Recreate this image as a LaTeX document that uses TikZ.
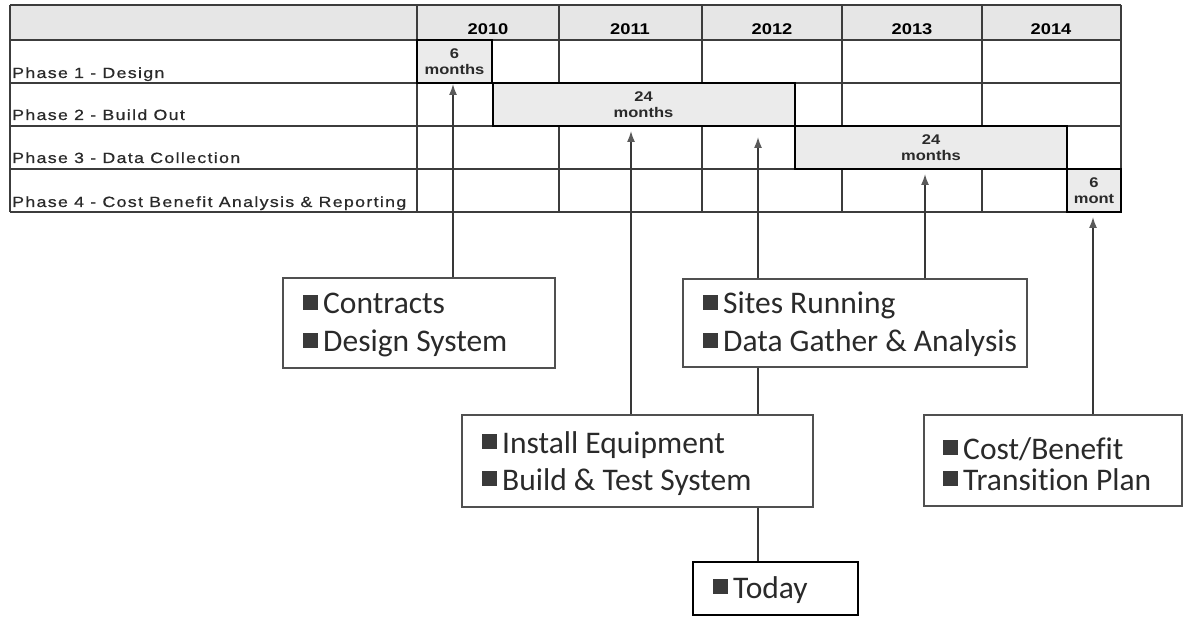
\documentclass[tikz,border=0pt]{standalone}
\usepackage{fontspec}
\setmainfont{Liberation Sans}
\newfontfamily\phasefont[FakeStretch=1.2,LetterSpace=9,FakeBold=0.6]{Liberation Sans}
\newfontfamily\tabfont[FakeStretch=1.18]{Liberation Sans}
\newfontfamily\calfont[Ligatures=NoCommon]{Carlito}
\usetikzlibrary{arrows.meta}
\definecolor{gridc}{HTML}{3C3C3C}
\definecolor{hdrfill}{HTML}{E6E6E6}
\definecolor{barfill}{HTML}{EBEBEB}
\definecolor{boxc}{HTML}{505050}
\definecolor{linec}{HTML}{383838}
\definecolor{headc}{HTML}{5A5A5A}
\definecolor{bulc}{HTML}{3A3A3A}
\definecolor{txtc}{HTML}{2A2A2A}
\newcommand{\bul}{\textcolor{bulc}{\rule[4pt]{15pt}{15pt}}\hspace{5pt}}
\begin{document}
\begin{tikzpicture}[x=1pt,y=-1pt,
  phaselbl/.style={anchor=base west,inner sep=0pt,font=\phasefont\fontsize{14.8}{17}\selectfont,text=txtc},
  yearlbl/.style={anchor=base,inner sep=0pt,font=\tabfont\bfseries\fontsize{15.5}{17}\selectfont,text=black},
  bar/.style={draw=black,line width=2pt,fill=barfill,inner sep=0pt,align=center,
    font=\tabfont\bfseries\fontsize{14}{16}\selectfont,text=txtc},
  callout/.style={draw=boxc,line width=1.3pt,fill=white,inner sep=0pt},
  todaybox/.style={draw=black,line width=2pt,fill=white,inner sep=0pt},
  cline/.style={anchor=base west,inner sep=0pt,font=\calfont\fontsize{31.5}{37}\selectfont,text=txtc},
  conn/.style={draw=linec,line width=1.5pt},
  arr/.style={conn,-{Latex[length=11pt,width=8pt,color=headc]}}
]
\useasboundingbox (0,0) rectangle (1193,617);
\fill[white] (0,0) rectangle (1193,617);

% table header
\fill[hdrfill] (10,5) rectangle (1121,40);
% grid
\foreach \yy in {5,40,83,126,169,212} \draw[gridc,line width=1.2pt] (10,\yy) -- (1121,\yy);
\foreach \xx in {10,417,559,702,842,982,1121} \draw[gridc,line width=1.2pt] (\xx,5) -- (\xx,212);

% years
\node[yearlbl] (y10) at (488,35) {2010};
\node[yearlbl] (y11) at (630,35) {2011};
\node[yearlbl] (y12) at (772,35) {2012};
\node[yearlbl] (y13) at (912,35) {2013};
\node[yearlbl] (y14) at (1051,35) {2014};

% phase labels
\node[phaselbl] (p1) at (12,78) {Phase 1 - Design};
\node[phaselbl] (p2) at (12,120) {Phase 2 - Build Out};
\node[phaselbl] (p3) at (12,163) {Phase 3 - Data Collection};
\node[phaselbl] (p4) at (12,207) {Phase 4 - Cost Benefit Analysis \& Reporting};

% bars
\node[bar,minimum width=75pt,minimum height=43pt] (b1) at (454.5,61.5) {6\\months};
\node[bar,minimum width=302pt,minimum height=43pt] (b2) at (643.5,104.5) {24\\months};
\node[bar,minimum width=272pt,minimum height=43pt] (b3) at (931,147.5) {24\\months};
\node[bar,minimum width=54pt,minimum height=43pt] (b4) at (1094,190.5) {6\\mont};

% arrow targets
\coordinate (tA) at (453,84);
\coordinate (tC) at (631,131);
\coordinate (tB) at (758,137);
\coordinate (tB2) at (925,174);
\coordinate (tE) at (1093,217);

% callout boxes
\node[callout,minimum width=272pt,minimum height=90pt] (A) at (419,323) {};
\node[callout,minimum width=344pt,minimum height=88pt] (B) at (855,323) {};
\node[callout,minimum width=351pt,minimum height=92pt] (C) at (637.5,461) {};
\node[todaybox,minimum width=165pt,minimum height=53pt] (D) at (775.5,588.5) {};
\node[callout,minimum width=258pt,minimum height=91pt] (E) at (1053,460.5) {};

% connectors
\draw[arr] (A.north -| tA) -- (tA);
\draw[arr] (C.north -| tC) -- (tC);
\draw[arr] (B.north -| tB) -- (tB);
\draw[arr] (B.north -| tB2) -- (tB2);
\draw[arr] (E.north -| tE) -- (tE);
\draw[conn] (B.south -| tB) -- (C.north -| tB);
\draw[conn] (C.south -| tB) -- (D.north -| tB);

% callout texts
\node[cline] (a1) at (303,314) {\bul Contracts};
\node[cline] (a2) at (303,352) {\bul Design System};
\node[cline] (s1) at (703,314) {\bul Sites Running};
\node[cline] (s2) at (703,352) {\bul Data Gather \& Analysis};
\node[cline] (c1) at (482,453) {\bul Install Equipment};
\node[cline] (c2) at (482,490) {\bul Build \& Test System};
\node[cline] (d1) at (713,598) {\bul Today};
\node[cline] (e1) at (943,459) {\bul Cost/Benefit};
\node[cline] (e2) at (943,490) {\bul Transition Plan};
\end{tikzpicture}
\end{document}
